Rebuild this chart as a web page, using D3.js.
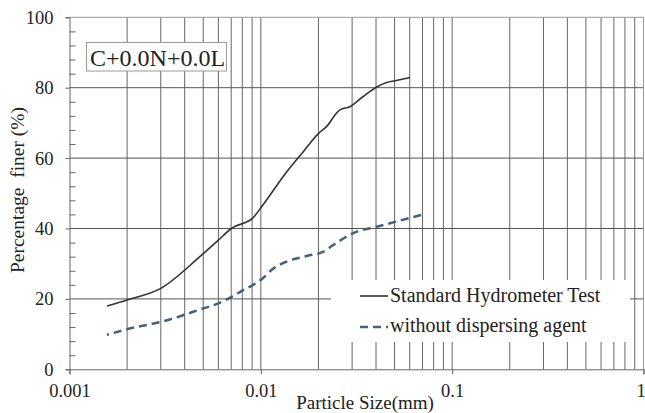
<!DOCTYPE html>
<html>
<head>
<meta charset="utf-8">
<script src="https://cdn.jsdelivr.net/npm/d3@7"></script>
<style>
  body { margin: 0; background: #fff; }
  svg { display: block; }
  svg text { font-family: 'Liberation Serif', 'Tinos', 'Times New Roman', 'DejaVu Serif', serif; }
</style>
</head>
<body>
<div class="chart"></div>
<script>
// particle size (mm) and percentage finer
const stdSize = [0.00157, 0.002, 0.003, 0.0048, 0.006, 0.007, 0.0091, 0.0101, 0.0137, 0.0167, 0.0201, 0.0221, 0.0249, 0.0259, 0.0292, 0.0343, 0.0403, 0.0455, 0.0503, 0.0602];
const stdPct  = [18.0, 19.7, 23.0, 32.0, 36.7, 40.0, 43.0, 46.2, 56.2, 61.9, 67.1, 69.0, 72.8, 73.7, 74.6, 77.5, 80.2, 81.5, 82.0, 82.9];
const noDispSize = [0.00157, 0.002, 0.00303, 0.005, 0.00604, 0.00704, 0.0081, 0.00913, 0.0101, 0.0116, 0.01365, 0.0174, 0.0212, 0.0239, 0.0304, 0.0403, 0.0513, 0.0693];
const noDispPct  = [9.8, 11.4, 13.5, 17.3, 18.8, 20.6, 22.5, 24.0, 25.6, 28.6, 30.6, 32.2, 33.4, 35.3, 38.7, 40.5, 42.0, 43.9];

const yTicks = [0, 20, 40, 60, 80, 100];
const xTicks = [0.001, 0.01, 0.1, 1];
const xTickLabels = ['0.001', '0.01', '0.1', '1'];
const seriesNames = ['Standard Hydrometer Test', 'without dispersing agent'];
const boxLabel = 'C+0.0N+0.0L';

const w = 645, h = 413;
const pLeft = 69.5, pRight = 643.5, pTop = 17.3, pBottom = 369.3;

const xScale = d3.scaleLog().domain([0.001, 1]).range([pLeft, pRight]);
const yScale = d3.scaleLinear().domain([0, 100]).range([pBottom, pTop]);

const svg = d3.select('div.chart')
              .append('svg')
              .attr('width', w)
              .attr('height', h);

// vertical grid: 2..9 of every decade plus the decade lines
const vGrid = [];
for (let e = -3; e < 0; e++) {
  for (let m = 1; m < 10; m++) {
    const v = m * Math.pow(10, e);
    if (v > 0.001) vGrid.push(v);
  }
}

svg.append('g')
   .selectAll('line')
   .data(vGrid)
   .enter()
   .append('line')
   .attr('x1', (d) => xScale(d))
   .attr('x2', (d) => xScale(d))
   .attr('y1', pTop)
   .attr('y2', pBottom)
   .attr('stroke', '#666')
   .attr('stroke-width', 1);

svg.append('g')
   .selectAll('line')
   .data(yTicks.filter((d) => d > 0 && d < 100))
   .enter()
   .append('line')
   .attr('x1', pLeft)
   .attr('x2', pRight)
   .attr('y1', (d) => yScale(d))
   .attr('y2', (d) => yScale(d))
   .attr('stroke', '#555')
   .attr('stroke-width', 1);

// frame top and right
svg.append('line')
   .attr('x1', pLeft).attr('x2', pRight)
   .attr('y1', yScale(100)).attr('y2', yScale(100))
   .attr('stroke', '#999');
svg.append('line')
   .attr('x1', pRight).attr('x2', pRight)
   .attr('y1', pTop).attr('y2', pBottom)
   .attr('stroke', '#999');

// legend background hides the grid
svg.append('rect')
   .attr('x', 331)
   .attr('y', 280)
   .attr('width', 299)
   .attr('height', 62)
   .attr('fill', '#fff');

// axes
const yAxis = d3.axisLeft(yScale)
                .tickValues(yTicks)
                .tickSize(4)
                .tickPadding(12);
const gy = svg.append('g')
              .attr('transform', 'translate(' + pLeft + ',0)')
              .call(yAxis);

const minor = d3.range(0, 101, 4).filter((d) => d % 20 != 0);
const gyMinor = svg.append('g')
                   .attr('transform', 'translate(' + pLeft + ',0)')
                   .call(d3.axisRight(yScale).tickValues(minor).tickSize(6).tickFormat(''));
gyMinor.select('.domain').remove();

const xAxis = d3.axisBottom(xScale)
                .tickValues(xTicks)
                .tickFormat((d, i) => xTickLabels[i])
                .tickSize(5)
                .tickPadding(10);
const gx = svg.append('g')
              .attr('transform', 'translate(0,' + pBottom + ')')
              .call(xAxis);
gx.selectAll('.tick text').filter((d) => d == 1).attr('dx', -3);

[gy, gx, gyMinor].forEach(function(g){
  g.attr('font-family', null);
  g.select('.domain').attr('stroke', '#666');
  g.selectAll('.tick line').attr('stroke', '#666');
  g.selectAll('text')
   .attr('font-size', 18.5)
   .attr('fill', '#222');
});

// curves
const line = d3.line()
               .x((d) => xScale(d[0]))
               .y((d) => yScale(d[1]))
               .curve(d3.curveMonotoneX);

svg.append('path')
   .datum(stdSize.map((d, i) => [d, stdPct[i]]))
   .attr('d', line)
   .attr('fill', 'none')
   .attr('stroke', '#333')
   .attr('stroke-width', 1.6);

svg.append('path')
   .datum(noDispSize.map((d, i) => [d, noDispPct[i]]))
   .attr('d', line)
   .attr('fill', 'none')
   .attr('stroke', '#44607c')
   .attr('stroke-width', 2.5)
   .attr('stroke-dasharray', '8,5')
   .attr('stroke-dashoffset', 6);

// legend
svg.append('line')
   .attr('x1', 360).attr('x2', 388)
   .attr('y1', 296).attr('y2', 296)
   .attr('stroke', '#333')
   .attr('stroke-width', 1.6);
svg.append('line')
   .attr('x1', 360).attr('x2', 388)
   .attr('y1', 327).attr('y2', 327)
   .attr('stroke', '#44607c')
   .attr('stroke-width', 2.5)
   .attr('stroke-dasharray', '8,5');

svg.selectAll('text.legend')
   .data(seriesNames)
   .enter()
   .append('text')
   .attr('class', 'legend')
   .text((d) => d)
   .attr('x', 390)
   .attr('y', (d, i) => 302 + i * 30)
   .attr('font-size', 20)
   .attr('fill', '#222');

// label box
svg.append('rect')
   .attr('x', 86.5)
   .attr('y', 42.5)
   .attr('width', 140)
   .attr('height', 28.5)
   .attr('fill', '#fff')
   .attr('stroke', '#999');
svg.append('text')
   .text(boxLabel)
   .attr('x', 90)
   .attr('y', 66)
   .attr('font-size', 24)
   .attr('fill', '#222');

// axis titles
svg.append('text')
   .text('Particle Size(mm)')
   .attr('x', 365)
   .attr('y', 409)
   .attr('text-anchor', 'middle')
   .attr('font-size', 19)
   .attr('fill', '#222');

svg.append('text')
   .text('Percentage  finer (%)')
   .attr('xml:space', 'preserve')
   .style('white-space', 'pre')
   .attr('transform', 'translate(24,190) rotate(-90)')
   .attr('text-anchor', 'middle')
   .attr('font-size', 19.5)
   .attr('fill', '#222');
</script>
</body>
</html>
